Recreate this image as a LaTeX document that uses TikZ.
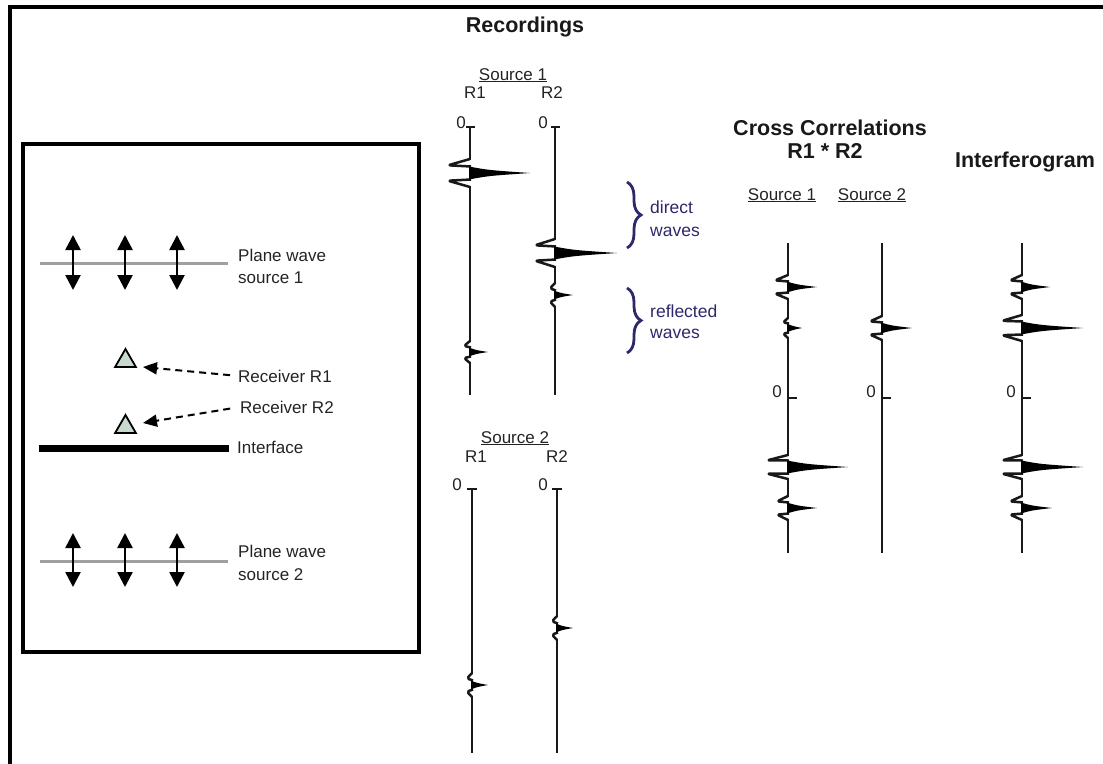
\documentclass[tikz,border=0pt]{standalone}
\usepackage{fontspec}
\setmainfont{Liberation Sans}
\usetikzlibrary{arrows.meta,decorations.pathreplacing,shapes.geometric,calc}
\definecolor{txt}{RGB}{35,35,35}
\definecolor{navy}{RGB}{45,40,105}
\definecolor{rcv}{RGB}{200,218,206}
\definecolor{pw}{RGB}{160,160,160}
\tikzset{
  trace/.style={line width=2.5pt, black!90, line join=round},
  lab/.style={font=\fontsize{17}{20}\selectfont, text=txt, inner sep=0pt, anchor=base},
  ttl/.style={font=\fontsize{21.5}{25}\selectfont\bfseries, text=black!90, inner sep=0pt, anchor=base},
  nlab/.style={font=\fontsize{17.5}{20}\selectfont, text=navy, inner sep=0pt, anchor=base west},
  pwarrow/.style={line width=2.5pt, {Triangle[length=15pt,width=15pt]}-{Triangle[length=15pt,width=15pt]}},
  darr/.style={line width=2pt, dash pattern=on 7pt off 5pt, -{Triangle[length=14pt,width=12pt]}},
  recv/.style={regular polygon, regular polygon sides=3, draw=black, line width=1.8pt, fill=rcv, minimum size=24pt, inner sep=0pt},
  nbrace/.style={decorate, decoration={brace, amplitude=14pt}, line width=2.8pt, draw=navy},
}
% X, Y, H, L, tipX, b
\newcommand\wav[6]{%
 \fill[white] (#1-1.8,#2-#3+0.8) rectangle (#1+1.8,#2+#3-0.8);
 \draw[trace,rounded corners=1.8pt] (#1,#2-#3) -- (#1-#4,#2-0.55*#3) -- (#1+1,#2-#6) (#1+1,#2+#6) -- (#1-#4,#2+0.55*#3) -- (#1,#2+#3);
 \fill[black] (#1-1,#2-#6) .. controls (#1+0.3*#5-0.3*#1,#2-0.45*#6) .. (#5,#2) .. controls (#1+0.3*#5-0.3*#1,#2+0.45*#6) .. (#1-1,#2+#6) -- cycle;}
\begin{document}
\begin{tikzpicture}[x=1pt,y=-1pt]
\useasboundingbox (0,0) rectangle (1103,763);
% outer frame
\draw[line width=4pt] (10,775) -- (10,7) -- (1115,7);
% left box
\draw[line width=3.3pt] (23,144) rectangle (419,652);

% plane wave source 1
\draw[pw, line width=3pt] (40,263) -- (228,263);
\foreach \x in {73,125,177} \draw[pwarrow] (\x,235) -- (\x,290);
\node[lab, anchor=base west] (pw1a) at (238,261) {Plane wave};
\node[lab, anchor=base west] (pw1b) at (238,283) {source 1};
% plane wave source 2
\draw[pw, line width=3pt] (40,561) -- (228,561);
\foreach \x in {73,125,177} \draw[pwarrow] (\x,533) -- (\x,587);
\node[lab, anchor=base west] (pw2a) at (238,557) {Plane wave};
\node[lab, anchor=base west] (pw2b) at (238,580) {source 2};

% receivers
\node[recv] (rx1) at (125.5,361) {};
\node[recv] (rx2) at (125.5,427) {};
\node[lab, anchor=base west] (r1lab) at (238,382) {Receiver R1};
\node[lab, anchor=base west] (r2lab) at (240,413) {Receiver R2};
\coordinate (r1tip) at (143,367);
\coordinate (r2tip) at (143,423);
\draw[darr, shorten <=8pt] (r1lab.west) -- (r1tip);
\draw[darr, shorten <=10pt] (r2lab.west) -- (r2tip);
% interface
\draw[line width=7pt] (39,448.5) -- (229,448.5);
\node[lab, anchor=base west] (iflab) at (237,453) {Interface};

% ---------------- Recordings ----------------
\node[ttl] (rec) at (525,32) {Recordings};
\node[lab] (s1) at (513,80) {\underline{Source 1}};
\node[lab] (s1r1) at (475,98) {R1};
\node[lab] (s1r2) at (552,98) {R2};
\node[lab] (z1) at (461,128) {0};
\node[lab] (z2) at (543,128) {0};
\draw[trace] (466,127) -- (475,127);
\draw[trace] (551,127) -- (560,127);
\draw[trace] (470,127) -- (470,395);
\draw[trace] (555,127) -- (555,395);
\wav{470}{173}{14}{22}{530}{6.5}
\wav{470}{352}{11}{6}{488}{4.5}
\wav{555}{253}{14}{20}{617}{6.5}
\wav{555}{295}{12}{5}{573}{4.5}

% braces
\draw[nbrace] (627,182) -- (627,248);
\draw[nbrace] (627,288) -- (627,353);
\node[nlab] (dw1) at (650,213) {direct};
\node[nlab] (dw2) at (650,236) {waves};
\node[nlab] (rw1) at (650,317) {reflected};
\node[nlab] (rw2) at (650,338) {waves};

% Source 2
\node[lab] (s2) at (515,443) {\underline{Source 2}};
\node[lab] (s2r1) at (476,462) {R1};
\node[lab] (s2r2) at (557,462) {R2};
\node[lab] (z3) at (457,490) {0};
\node[lab] (z4) at (543,490) {0};
\draw[trace] (467,489) -- (477,489);
\draw[trace] (552,489) -- (562,489);
\draw[trace] (472,489) -- (472,753);
\draw[trace] (557,489) -- (557,753);
\wav{557}{628}{12}{5}{573}{4.5}
\wav{472}{685}{12}{5}{488}{4.5}

% ---------------- Cross correlations ----------------
\node[ttl] (cc) at (830,135) {Cross Correlations};
\node[ttl] (cc2) at (825,158) {R1 * R2};
\node[ttl] (ifg) at (1025,167) {Interferogram};
\node[lab] (cs1) at (782,200) {\underline{Source 1}};
\node[lab] (cs2) at (872,200) {\underline{Source 2}};
\node[lab] (z5) at (777,397) {0};
\node[lab] (z6) at (871,397) {0};
\node[lab] (z7) at (1011,397) {0};
\draw[trace] (788,243) -- (788,553);
\draw[trace] (882,243) -- (882,553);
\draw[trace] (1022,243) -- (1022,553);
\draw[trace] (788,398) -- (797,398);
\draw[trace] (882,398) -- (891,398);
\draw[trace] (1022,398) -- (1031,398);
\wav{788}{287}{12}{13}{817}{5.5}
\wav{788}{328}{10}{5}{802}{4.5}
\wav{788}{467}{12}{21}{848}{6.5}
\wav{788}{508}{12}{11}{817}{5.5}
\wav{882}{328}{12}{12}{912}{5.5}
\wav{1022}{287}{12}{12}{1050}{5.5}
\wav{1022}{328}{13}{20}{1083}{6.5}
\wav{1022}{467}{12}{20}{1083}{6.5}
\wav{1022}{508}{12}{12}{1052}{5.5}
\end{tikzpicture}
\end{document}
